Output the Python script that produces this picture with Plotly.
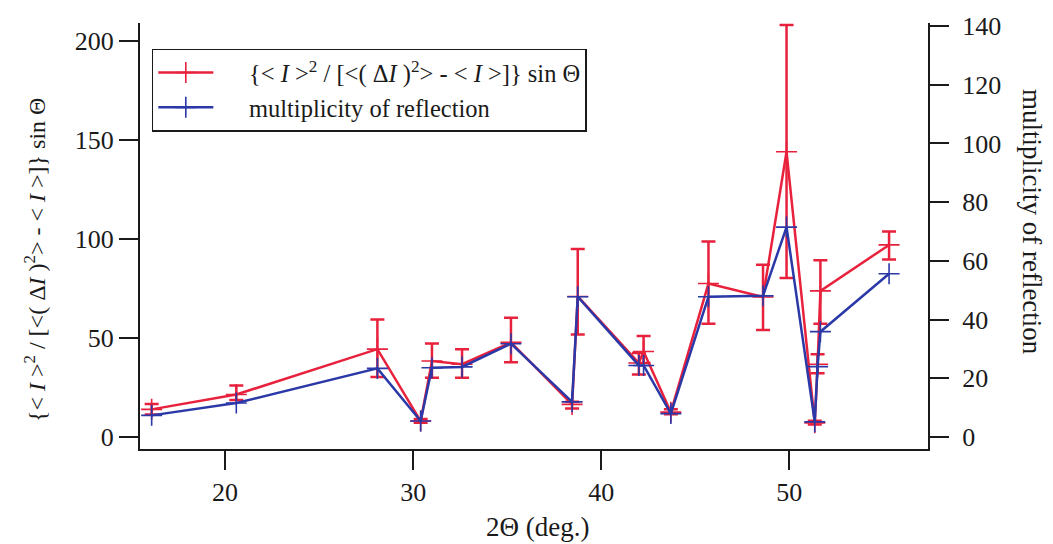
import plotly.graph_objects as go

# Diffraction angle 2Θ (deg.) of each reflection group
two_theta = [16.1, 20.6, 28.1, 30.4, 31.0, 32.6, 35.2, 38.45, 38.75, 42.0, 42.25,
             43.7, 45.7, 48.6, 49.85, 51.35, 51.5, 51.65, 55.3]

# {<I>^2 / [<(ΔI)^2> - <I>]} sin Θ with upper / lower error limits
ratio = [14.0, 21.5, 44.4, 8.1, 38.4, 36.8, 47.8, 16.5, 71.0, 37.4, 43.2,
         12.6, 77.5, 70.7, 144.0, 7.2, 36.8, 73.8, 97.0]
ratio_hi = [16.7, 26.0, 59.4, 9.2, 47.2, 44.3, 60.3, 17.8, 95.0, 42.4, 51.0,
            14.0, 98.7, 87.0, 208.0, 8.2, 41.8, 89.3, 103.8]
ratio_lo = [11.4, 18.7, 30.3, 7.2, 30.0, 30.0, 37.8, 14.5, 51.8, 31.6, 37.4,
            11.5, 57.2, 54.0, 80.3, 6.4, 32.2, 57.2, 89.6]

# Multiplicity of reflection (right axis)
multiplicity = [7.4, 11.6, 23.4, 5.5, 23.6, 23.9, 31.8, 12.0, 47.8, 24.4, 24.4,
                8.0, 47.8, 48.1, 71.5, 5.2, 24.0, 35.9, 55.6]

x_ticks = [20, 30, 40, 50]
left_ticks = [0, 50, 100, 150, 200]
right_ticks = [0, 20, 40, 60, 80, 100, 120, 140]

RED = "#e8213c"
BLUE = "#2b38a8"
INK = "#1a1a1a"
FONT = "Liberation Serif, Times New Roman, serif"

RATIO_LABEL = ("{&lt; <i>I</i> &gt;<sup>2</sup> / [&lt;( Δ<i>I</i> )<sup>2</sup>&gt; "
               "- &lt; <i>I</i> &gt;]} sin Θ")
PAD = "&nbsp;" * 5  # gap between legend sample and label

err_plus = [h - v for h, v in zip(ratio_hi, ratio)]
err_minus = [v - l for v, l in zip(ratio, ratio_lo)]

fig = go.Figure()

fig.add_trace(go.Scatter(
    x=two_theta, y=ratio, mode="lines+markers",
    name=PAD + RATIO_LABEL,
    line=dict(color=RED, width=2.5),
    marker=dict(symbol="cross-thin", size=15, line=dict(color=RED, width=1.6)),
    error_y=dict(type="data", symmetric=False, array=err_plus, arrayminus=err_minus,
                 color=RED, thickness=2.5, width=7),
    yaxis="y",
))

fig.add_trace(go.Scatter(
    x=two_theta, y=multiplicity, mode="lines+markers",
    name=PAD + "multiplicity of reflection",
    line=dict(color=BLUE, width=2.5),
    marker=dict(symbol="cross-thin", size=15, line=dict(color=BLUE, width=1.6)),
    yaxis="y2",
))

axis_common = dict(
    showgrid=False, zeroline=False, showline=True, linecolor=INK, linewidth=2,
    ticks="outside", ticklen=19, tickwidth=2, tickcolor=INK,
    tickfont=dict(family=FONT, size=26, color=INK),
)

fig.update_layout(
    width=1053, height=544,
    margin=dict(l=140, r=125, t=19, b=95),
    paper_bgcolor="white", plot_bgcolor="white",
    font=dict(family=FONT, size=24, color=INK),
    xaxis=dict(range=[15.48, 57.37], tickvals=x_ticks, **axis_common),
    yaxis=dict(range=[-6, 209], tickvals=left_ticks, **axis_common),
    yaxis2=dict(range=[-4.05, 141.0], tickvals=right_ticks, overlaying="y", side="right",
                ticklabelstandoff=8, **axis_common),
    legend=dict(x=0.015, y=0.94, xanchor="left", yanchor="top",
                bgcolor="white", bordercolor=INK, borderwidth=1.5,
                font=dict(family=FONT, size=24.5, color=INK),
                itemwidth=55, tracegroupgap=0),
    showlegend=True,
)

fig.add_annotation(
    text=RATIO_LABEL,
    xref="paper", yref="paper", x=-0.133, y=0.444, textangle=-90,
    showarrow=False, xanchor="center", yanchor="middle",
    font=dict(family=FONT, size=24, color=INK),
)
fig.add_annotation(
    text="multiplicity of reflection",
    xref="paper", yref="paper", x=1.132, y=0.533, textangle=90,
    showarrow=False, xanchor="center", yanchor="middle",
    font=dict(family=FONT, size=27, color=INK),
)
fig.add_annotation(
    text="2Θ (deg.)",
    xref="paper", yref="paper", x=0.504, y=-0.182,
    showarrow=False, xanchor="center", yanchor="middle",
    font=dict(family=FONT, size=27, color=INK),
)

fig.write_html("out.html")
